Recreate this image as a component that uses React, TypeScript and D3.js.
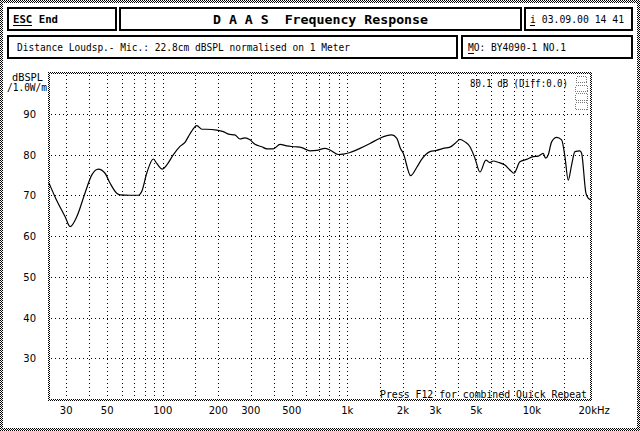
import React from "react";
import * as d3 from "d3";

// Frequency response curve (Hz, dB SPL)
const FREQ = [
  24.2, 26.1, 29.6, 31.5, 34.2, 37.9, 41.3, 44.8, 48.7, 51.8, 56.3, 58.7, 66.5, 73.8, 76.9, 81.9,
  88.9, 92.8, 99.5, 105, 114, 124, 132, 141, 153, 163, 173, 196, 213, 227, 246, 262, 279, 297,
  316, 344, 366, 397, 432, 469, 521, 566, 628, 682, 757, 805, 893, 951, 1034, 1171, 1327, 1502,
  1739, 1851, 1940, 2009, 2203, 2375, 2527, 2803, 3047, 3308, 3597, 3828, 4074, 4337, 4617, 4913,
  5229, 5636, 5923, 6173, 6569, 7142, 7601, 7991, 8610, 9362, 10163, 10817, 11512, 11862, 12254,
  12789, 13610, 14486, 15095, 15729, 16406, 17100, 18197, 18586, 19616, 20180, 20797,
];
const SPL = [
  73.0, 69.6, 64.7, 62.3, 64.7, 70.5, 75.0, 76.4, 75.4, 73.0, 70.5, 70.1, 70.0, 70.0, 70.9, 75.4,
  78.9, 77.8, 76.4, 77.4, 79.9, 82.0, 83.0, 85.2, 87.1, 86.2, 86.2, 86.0, 85.6, 85.0, 84.8, 83.8,
  84.1, 83.6, 82.5, 81.9, 81.4, 81.4, 82.5, 82.1, 81.9, 81.7, 80.9, 81.0, 81.5, 81.1, 80.0, 80.1,
  80.5, 81.5, 82.7, 84.0, 84.8, 84.0, 81.5, 80.3, 74.8, 76.8, 78.8, 80.7, 81.0, 81.5, 81.8, 82.7,
  83.7, 83.1, 81.9, 79.1, 75.7, 78.6, 78.0, 78.4, 78.1, 77.4, 76.2, 75.4, 78.2, 78.8, 79.5, 79.6,
  80.3, 79.1, 79.9, 83.1, 84.2, 83.6, 79.5, 73.7, 77.4, 80.7, 80.9, 80.3, 70.5, 69.3, 68.9,
];

const Y_TICKS = [30, 40, 50, 60, 70, 80, 90];
const X_GRID = [
  30, 40, 50, 60, 70, 80, 90, 100, 150, 200, 300, 400, 500, 600, 700, 800, 900, 1000, 1500, 2000,
  3000, 4000, 5000, 6000, 7000, 8000, 9000, 10000, 15000,
];
const X_TICK_VALUES = [30, 50, 100, 200, 300, 500, 1000, 2000, 3000, 5000, 10000];
const X_TICK_LABELS = ["30", "50", "100", "200", "300", "500", "1k", "2k", "3k", "5k", "10k"];
const X_LAST_VALUE = 20000;
const X_LAST_LABEL = "20kHz";

const F_DOMAIN = [24.2, 20900];
const DB_DOMAIN = [20, 100];

const MONO = "'DejaVu Sans Mono', 'Liberation Mono', monospace";

export default function App() {
  const x = d3.scaleLog().domain(F_DOMAIN).range([49, 591]);
  const y = d3.scaleLinear().domain(DB_DOMAIN).range([399, 73]);
  const pts = FREQ.map((f, i) => [f, SPL[i]] as [number, number]);
  const line = d3
    .line<[number, number]>()
    .x((d) => x(d[0]))
    .y((d) => y(d[1]))
    .curve(d3.curveMonotoneX);

  const box = (x0: number, y0: number, x1: number, y1: number, key: string) => (
    <rect key={key} x={x0 + 1} y={y0 + 1} width={x1 - x0 - 2} height={y1 - y0 - 2} fill="#fff" stroke="#000" strokeWidth={2} />
  );

  return (
    <svg
      width={640}
      height={431}
      style={{ position: "fixed", left: 0, top: 0, background: "#fff" }}
      fontFamily={MONO}
    >
      <defs>
        <pattern id="chk" width="2" height="2" patternUnits="userSpaceOnUse">
          <rect x="0" y="0" width="1" height="1" fill="#000" />
          <rect x="1" y="1" width="1" height="1" fill="#000" />
        </pattern>
      </defs>
      <rect x={0} y={0} width={640} height={431} fill="#fff" />
      {/* outer checkered frame */}
      <path d="M0,0H640V431H0Z M3,3V428H637V3Z" fillRule="evenodd" fill="url(#chk)" />

      {/* header boxes */}
      {box(7, 7, 117, 31, "a")}
      {box(119, 7, 522, 31, "b")}
      {box(524, 7, 633, 31, "c")}
      {box(7, 35, 458, 59, "d")}
      {box(461, 35, 633, 59, "e")}

      <text x={13} y={23} fontSize={11} fontWeight="bold" textLength={45} lengthAdjust="spacingAndGlyphs">
        ESC  End
      </text>
      <line x1={13} x2={32} y1={25.5} y2={25.5} stroke="#000" strokeWidth={1} />
      <text x={213} y={24} fontSize={12} fontWeight="bold" textLength={215} lengthAdjust="spacingAndGlyphs" xmlSpace="preserve">
        D A A S  Frequency Response
      </text>
      <text x={530} y={23} fontSize={10} textLength={94} lengthAdjust="spacingAndGlyphs" xmlSpace="preserve">
        i 03.09.00 14 41
      </text>
      <line x1={530} x2={535} y1={25.5} y2={25.5} stroke="#000" strokeWidth={1} />
      <text x={17} y={51} fontSize={10} textLength={333} lengthAdjust="spacingAndGlyphs">
        Distance Loudsp.- Mic.: 22.8cm dBSPL normalised on 1 Meter
      </text>
      <text x={468} y={51} fontSize={10} textLength={98} lengthAdjust="spacingAndGlyphs">
        MO: BY4090-1 NO.1
      </text>
      <line x1={468} x2={474} y1={53.5} y2={53.5} stroke="#000" strokeWidth={1} />

      {/* axis title */}
      <text x={12} y={81} fontSize={10} textLength={31} lengthAdjust="spacingAndGlyphs">
        dBSPL
      </text>
      <text x={7} y={91} fontSize={10} textLength={40} lengthAdjust="spacingAndGlyphs">
        /1.0W/m
      </text>

      {/* grid */}
      <g stroke="#000" strokeWidth={1} strokeDasharray="1,3" shapeRendering="crispEdges">
        {Y_TICKS.map((t) => (
          <line key={"h" + t} x1={51} x2={590} y1={Math.round(y(t)) + 0.5} y2={Math.round(y(t)) + 0.5} />
        ))}
        {X_GRID.map((f) => (
          <line key={"v" + f} x1={Math.round(x(f)) + 0.5} x2={Math.round(x(f)) + 0.5} y1={75} y2={399} />
        ))}
      </g>

      {/* y tick labels */}
      <g fontSize={10} fontFamily="'DejaVu Sans', sans-serif" textAnchor="end">
        {Y_TICKS.map((t) => (
          <text key={"yl" + t} x={36} y={y(t) + 4}>
            {t}
          </text>
        ))}
      </g>
      {/* x tick labels */}
      <g fontSize={10} fontFamily="'DejaVu Sans', sans-serif" textAnchor="middle">
        {X_TICK_VALUES.map((f, i) => (
          <text key={"xl" + f} x={x(f)} y={414}>
            {X_TICK_LABELS[i]}
          </text>
        ))}
        <text x={x(X_LAST_VALUE) - 9} y={414} textAnchor="start">
          {X_LAST_LABEL}
        </text>
      </g>

      {/* legend mini boxes */}
      <g fill="none" stroke="#777" strokeWidth={1} strokeDasharray="1,1" shapeRendering="crispEdges">
        <rect x={576.5} y={76.5} width={10} height={6} />
        <rect x={575.5} y={85.5} width={12} height={6} />
        <rect x={575.5} y={93.5} width={12} height={7} />
        <rect x={575.5} y={102.5} width={12} height={7} />
      </g>

      <text x={470} y={87} fontSize={10} textLength={98} lengthAdjust="spacingAndGlyphs" xmlSpace="preserve">
        80.1 dB (Diff:0.0)
      </text>

      {/* curve */}
      <path d={line(pts) || ""} fill="none" stroke="#000" strokeWidth={1.2} />

      <text x={380} y={398} fontSize={10} textLength={207} lengthAdjust="spacingAndGlyphs">
        Press F12 for combined Quick Repeat
      </text>

      {/* plot checkered border */}
      <path d="M48,72H592V401H48Z M50,74V399H590V74Z" fillRule="evenodd" fill="url(#chk)" />
    </svg>
  );
}
